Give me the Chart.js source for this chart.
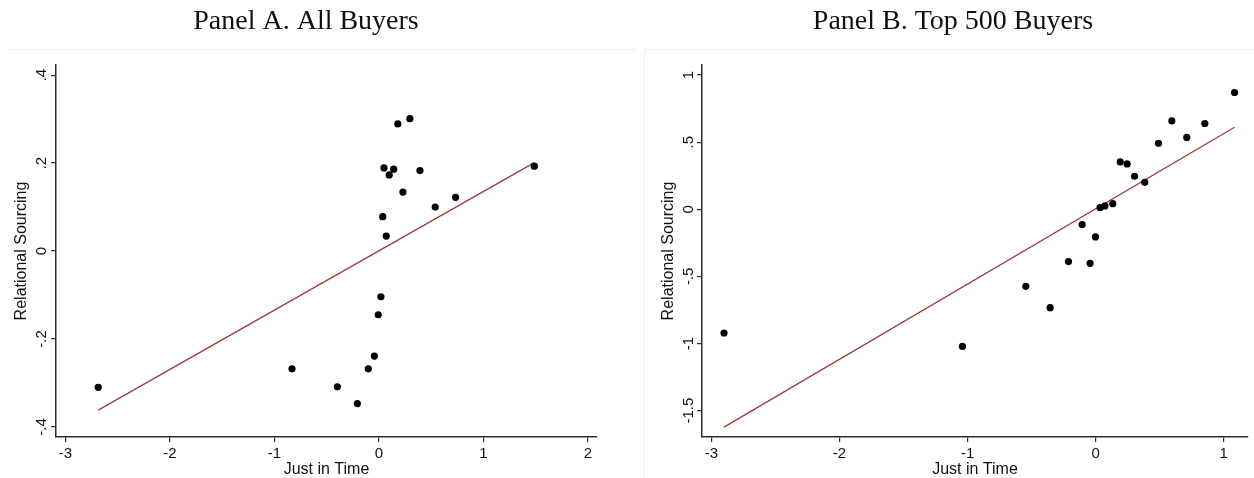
<!DOCTYPE html>
<html><head><meta charset="utf-8">
<script src="https://cdn.jsdelivr.net/npm/chart.js@4.4.1/dist/chart.umd.min.js"></script>
<style>
html,body{margin:0;padding:0;background:#fff;overflow:hidden}
#wrap{position:relative;width:1254px;height:478px}
canvas{position:absolute;top:0}
</style></head><body>
<div id="wrap">
<canvas id="cA" width="640" height="478" style="left:0px"></canvas>
<canvas id="cB" width="614" height="478" style="left:640px"></canvas>
</div>
<script>
// ---- Data ----
const panelTitles = ['Panel A. All Buyers', 'Panel B. Top 500 Buyers'];
const xAxisTitle = 'Just in Time';
const yAxisTitle = 'Relational Sourcing';

// Panel A: All Buyers (binned scatter)
const xA = [-2.686, -0.832, -0.398, -0.207, -0.102, -0.044, -0.007, 0.019, 0.036, 0.048, 0.070, 0.098, 0.141, 0.180, 0.229, 0.296, 0.392, 0.538, 0.733, 1.486];
const yA = [-0.310, -0.268, -0.309, -0.347, -0.268, -0.239, -0.145, -0.104, 0.078, 0.189, 0.034, 0.173, 0.186, 0.289, 0.134, 0.301, 0.183, 0.100, 0.122, 0.193];
const fitXA = [-2.686, 1.486];
const fitYA = [-0.362, 0.201];
const xTicksA = [-3, -2, -1, 0, 1, 2];
const xTickLabelsA = ['-3', '-2', '-1', '0', '1', '2'];
const yTicksA = [-0.4, -0.2, 0, 0.2, 0.4];
const yTickLabelsA = ['-.4', '-.2', '0', '.2', '.4'];

// Panel B: Top 500 Buyers
const xB = [-2.902, -1.040, -0.545, -0.355, -0.212, -0.105, -0.043, -0.001, 0.035, 0.072, 0.134, 0.192, 0.246, 0.304, 0.384, 0.491, 0.595, 0.712, 0.853, 1.085];
const yB = [-0.922, -1.022, -0.574, -0.733, -0.390, -0.114, -0.403, -0.206, 0.013, 0.025, 0.042, 0.353, 0.338, 0.246, 0.201, 0.492, 0.659, 0.535, 0.639, 0.870];
const fitXB = [-2.902, 1.085];
const fitYB = [-1.623, 0.611];
const xTicksB = [-3, -2, -1, 0, 1];
const xTickLabelsB = ['-3', '-2', '-1', '0', '1'];
const yTicksB = [-1.5, -1, -0.5, 0, 0.5, 1];
const yTickLabelsB = ['-1.5', '-1', '-.5', '0', '.5', '1'];

// ---- Styling ----
const AXIS = '#2e2e2e';
const FIT = '#9e3b3b';
const SANS = '"Liberation Sans", Arial, sans-serif';
const SERIF = '"Liberation Serif", "Times New Roman", serif';

function makePanel(canvasId, cfg) {
  const decor = {
    id: 'decor_' + canvasId,
    beforeDraw(chart) {
      const c = chart.ctx;
      c.save();
      c.strokeStyle = '#eef0f0';
      c.lineWidth = 1;
      c.beginPath();
      c.moveTo(cfg.frame.x0, 49.5); c.lineTo(cfg.frame.x1, 49.5);
      if (cfg.frame.left) { c.moveTo(cfg.frame.x0 + 0.5, 49.5); c.lineTo(cfg.frame.x0 + 0.5, 478); }
      c.stroke();
      c.restore();
    },
    afterDraw(chart) {
      const c = chart.ctx;
      c.save();
      // panel title
      c.fillStyle = '#111';
      c.font = '28px ' + SERIF;
      c.textAlign = 'center';
      c.textBaseline = 'alphabetic';
      c.fillText(cfg.title, cfg.titleX, 28.5);
      // rotated y tick labels
      const ys = chart.scales.y;
      c.font = '15px ' + SANS;
      c.fillStyle = '#111';
      cfg.yTicks.forEach((v, i) => {
        const py = ys.getPixelForValue(v);
        c.save();
        c.translate(cfg.yLabelX, py);
        c.rotate(-Math.PI / 2);
        c.textAlign = 'center';
        c.textBaseline = 'alphabetic';
        c.fillText(cfg.yLabels[i], 0, 0);
        c.restore();
      });
      c.restore();
    }
  };

  return new Chart(document.getElementById(canvasId), {
    type: 'scatter',
    data: {
      datasets: [
        {
          type: 'line',
          data: cfg.fitX.map((x, i) => ({ x: x, y: cfg.fitY[i] })),
          borderColor: FIT,
          borderWidth: 1.3,
          pointRadius: 0,
          showLine: true,
          fill: false,
          order: 2
        },
        {
          data: cfg.x.map((x, i) => ({ x: x, y: cfg.y[i] })),
          backgroundColor: '#000',
          borderColor: '#000',
          borderWidth: 0,
          pointRadius: 3.6,
          order: 1
        }
      ]
    },
    options: {
      responsive: false,
      animation: false,
      devicePixelRatio: 1,
      layout: { padding: { left: 0, right: cfg.padRight, top: 65, bottom: 0 } },
      plugins: { legend: { display: false }, tooltip: { enabled: false } },
      scales: {
        x: {
          type: 'linear', position: 'bottom',
          min: cfg.xMin, max: cfg.xMax,
          afterBuildTicks: s => { s.ticks = cfg.xTicks.map(v => ({ value: v })); },
          afterFit: s => { s.height = 41; },
          ticks: {
            callback: (v) => cfg.xLabels[cfg.xTicks.indexOf(v)],
            font: { family: SANS, size: 15 }, color: '#111',
            padding: 3, maxRotation: 0, minRotation: 0, autoSkip: false
          },
          grid: { drawOnChartArea: false, drawTicks: true, tickLength: 5, color: AXIS, lineWidth: 1.2 },
          border: { display: true, color: AXIS, width: 1.5 },
          title: {
            display: true, text: xAxisTitle, color: '#111',
            font: { family: SANS, size: 16, lineHeight: 1 },
            padding: { top: 0, bottom: 0 }
          }
        },
        y: {
          type: 'linear', position: 'left',
          min: cfg.yMin, max: cfg.yMax,
          afterBuildTicks: s => { s.ticks = cfg.yTicks.map(v => ({ value: v })); },
          afterFit: s => { s.width = cfg.yWidth; },
          ticks: { display: false },
          grid: { drawOnChartArea: false, drawTicks: true, tickLength: 5, color: AXIS, lineWidth: 1.2 },
          border: { display: true, color: AXIS, width: 1.5 },
          title: {
            display: true, text: yAxisTitle, color: '#111',
            font: { family: SANS, size: 16, lineHeight: 1 },
            padding: { top: cfg.yTitleOffset - 8, bottom: 0 }
          }
        }
      }
    },
    plugins: [decor]
  });
}

makePanel('cA', {
  title: panelTitles[0], titleX: 306,
  x: xA, y: yA, fitX: fitXA, fitY: fitYA,
  xMin: -3.09, xMax: 2.086, yMin: -0.423, yMax: 0.423,
  xTicks: xTicksA, xLabels: xTickLabelsA, yTicks: yTicksA, yLabels: yTickLabelsA,
  padRight: 43, yWidth: 56, yLabelX: 46, yTitleOffset: 22,
  frame: { x0: 9, x1: 636, left: false }
});

makePanel('cB', {
  title: panelTitles[1], titleX: 313,
  x: xB, y: yB, fitX: fitXB, fitY: fitYB,
  xMin: -3.074, xMax: 1.19, yMin: -1.697, yMax: 1.075,
  xTicks: xTicksB, xLabels: xTickLabelsB, yTicks: yTicksB, yLabels: yTickLabelsB,
  padRight: 6, yWidth: 62, yLabelX: 52.5, yTitleOffset: 29,
  frame: { x0: 4, x1: 614, left: true }
});
</script>
</body></html>
